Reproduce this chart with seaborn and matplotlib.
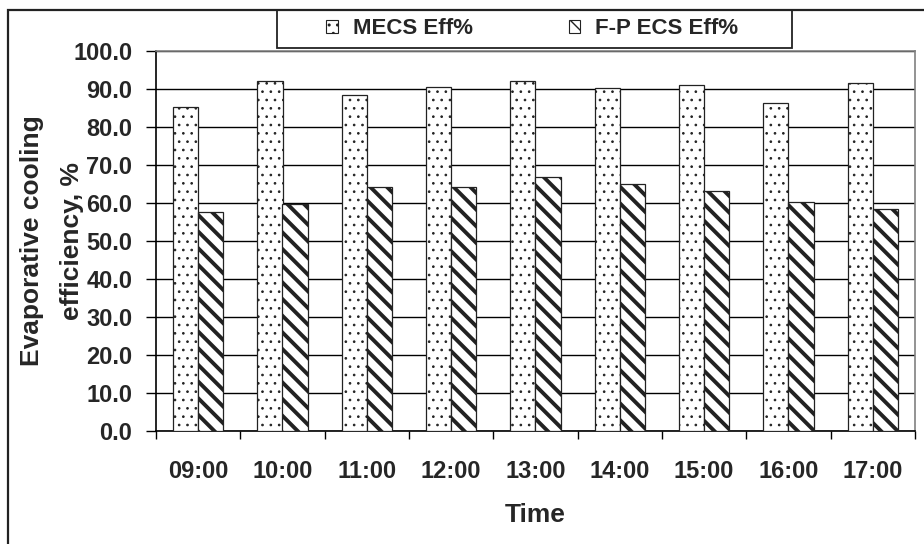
import numpy as np
import pandas as pd
import matplotlib
matplotlib.use('Agg')
import matplotlib.pyplot as plt
from matplotlib.patches import Patch, Rectangle
import seaborn as sns

times = ['09:00', '10:00', '11:00', '12:00', '13:00', '14:00', '15:00', '16:00', '17:00']
mecs_eff = [85.2, 92.2, 88.4, 90.6, 92.2, 90.3, 91.0, 86.2, 91.5]
fp_eff = [57.6, 59.8, 64.2, 64.2, 66.9, 65.1, 63.2, 60.3, 58.5]
series = ['MECS Eff%', 'F-P ECS Eff%']
hatches = ['..', '\\\\']
hatch_lw = [0.7, 2.8]
y_ticks = np.arange(0, 101, 10)

sns.set_style('white')
plt.rcParams['font.family'] = ['Liberation Sans', 'DejaVu Sans']
plt.rcParams['font.weight'] = 'bold'

df = pd.DataFrame({
    'Time': times * 2,
    'eff': mecs_eff + fp_eff,
    'series': [series[0]] * len(times) + [series[1]] * len(times),
})


def set_hatch_lw(p, lw):
    if hasattr(p, 'set_hatch_linewidth'):
        p.set_hatch_linewidth(lw)
    else:
        p._hatch_linewidth = lw


fig = plt.figure(figsize=(9.24, 5.44), dpi=100)
ax = fig.add_axes([156 / 924, 1 - 431 / 544, 759 / 924, 380 / 544])

sns.barplot(data=df, x='Time', y='eff', hue='series', hue_order=series,
            palette=['white', 'white'], width=0.6, edgecolor='#222222',
            linewidth=0.9, legend=False, ax=ax, zorder=3)

for k, c in enumerate(ax.containers):
    for b in c.patches:
        b.set_hatch(hatches[k])
        set_hatch_lw(b, hatch_lw[k])

ax.set_ylim(0, 100)
ax.set_xlim(-0.5, len(times) - 0.5)
ax.set_yticks(y_ticks)
ax.set_yticklabels([f'{v:.1f}' for v in y_ticks])
ax.set_xticks(range(len(times)))
ax.set_xticklabels(times)
ax.set_xticks(np.arange(-0.5, len(times), 1), minor=True)

ax.yaxis.grid(True, color='black', linewidth=1.0, zorder=0)
ax.set_axisbelow(True)
ax.tick_params(axis='y', direction='out', length=7, width=1, color='black',
               pad=10, labelsize=17, left=True)
ax.tick_params(axis='x', which='major', length=0, pad=21, labelsize=17)
ax.tick_params(axis='x', which='minor', direction='out', length=6, width=1,
               color='black', bottom=True)

for side in ['left', 'bottom']:
    ax.spines[side].set_color('black')
    ax.spines[side].set_linewidth(1.2)
for side in ['top', 'right']:
    ax.spines[side].set_color('#808080')
    ax.spines[side].set_linewidth(1.2)

ax.set_ylabel('Evaporative cooling\nefficiency, %', fontsize=19, fontweight='bold',
              va='center', linespacing=1.8)
ax.yaxis.set_label_coords(-0.137, 0.5)
ax.set_xlabel('Time', fontsize=19, fontweight='bold', va='center')
ax.xaxis.set_label_coords(0.5, -0.22)

handles = []
for i, s in enumerate(series):
    h = Patch(facecolor='white', edgecolor='#222222', hatch=hatches[i],
              linewidth=0.8, label=s)
    set_hatch_lw(h, hatch_lw[i] * 0.6)
    handles.append(h)
fig.legend(handles=handles, loc='center', bbox_to_anchor=(532.5 / 924, 1 - 29 / 544),
           ncol=2, frameon=False, handlelength=0.5, handleheight=0.5,
           handletextpad=0.7, columnspacing=4.3, prop={'weight': 'bold', 'size': 16})

# legend box and outer chart frame
fig.add_artist(Rectangle((277 / 924, 1 - 48 / 544), 515 / 924, 38 / 544,
                         transform=fig.transFigure, fill=False, edgecolor='#222222',
                         linewidth=1.3))
fig.add_artist(Rectangle((8 / 924, -0.05), 1.2, 1.05 - 10 / 544,
                         transform=fig.transFigure, fill=False, edgecolor='#222222',
                         linewidth=1.6))

fig.savefig('out.png', dpi=100)
